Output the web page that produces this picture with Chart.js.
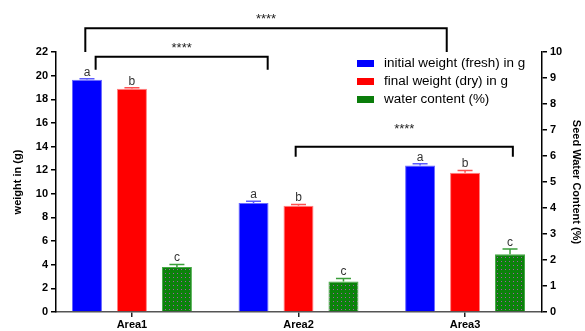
<!DOCTYPE html>
<html>
<head>
<meta charset="utf-8">
<script src="https://cdn.jsdelivr.net/npm/chart.js@4"></script>
<style>
  html, body { margin: 0; padding: 0; background: #fff; }
  canvas { display: block; }
</style>
</head>
<body>
<canvas id="chart" width="585" height="331"></canvas>
<script>
// Seed weights per sampling area (g) and seed water content (%)
const areas = ['Area1', 'Area2', 'Area3'];
const initialWeight = [19.65, 9.22, 12.4];
const initialErr = [0.08, 0.15, 0.15];
const finalWeight = [18.9, 8.98, 11.78];
const finalErr = [0.08, 0.12, 0.2];
const waterContent = [1.73, 1.17, 2.22];
const waterErr = [0.1, 0.12, 0.2];
const groupLetters = ['a', 'b', 'c'];
const weightTicks = [0, 2, 4, 6, 8, 10, 12, 14, 16, 18, 20, 22];
const waterTicks = [0, 1, 2, 3, 4, 5, 6, 7, 8, 9, 10];

// Significance brackets: x in area index units, y in weight (g) units
const bracketFrom = [-0.28, -0.218, 0.983];
const bracketTo = [1.89, 0.815, 2.287];
const bracketTop = [24.0, 21.6, 13.98];
const bracketFoot = [22.0, 20.5, 13.14];
const bracketLabelY = [24.97, 22.54, 15.68];
const bracketLabels = ['****', '****', '****'];

const FONT = "'Liberation Sans', Arial, sans-serif";

// dotted green fill for the water content bars
function dotPattern() {
  const c = document.createElement('canvas');
  c.width = 4; c.height = 4;
  const g = c.getContext('2d');
  g.fillStyle = '#0b820b';
  g.fillRect(0, 0, 4, 4);
  g.fillStyle = '#a45aa8';
  g.fillRect(1, 1, 1, 1);
  return g.createPattern(c, 'repeat');
}

const points = arr => arr.map((v, i) => ({ x: i, y: v }));

const errorBars = {
  id: 'errorBars',
  afterDatasetsDraw(chart) {
    const ctx = chart.ctx;
    chart.data.datasets.forEach((ds, di) => {
      const meta = chart.getDatasetMeta(di);
      const scale = chart.scales[ds.yAxisID];
      meta.data.forEach((bar, i) => {
        const v = ds.data[i].y;
        const top = scale.getPixelForValue(v + ds.errors[i]);
        ctx.save();
        ctx.strokeStyle = ds.errorColor;
        ctx.lineWidth = 1.5;
        ctx.beginPath();
        ctx.moveTo(bar.x, bar.y);
        ctx.lineTo(bar.x, top);
        ctx.moveTo(bar.x - 7.5, top);
        ctx.lineTo(bar.x + 7.5, top);
        ctx.stroke();
        ctx.fillStyle = '#333';
        ctx.font = '12px ' + FONT;
        ctx.textAlign = 'center';
        ctx.textBaseline = 'alphabetic';
        ctx.fillText(ds.letter, bar.x, top - 3);
        ctx.restore();
      });
    });
  }
};

const annotations = {
  id: 'annotations',
  afterDraw(chart) {
    const ctx = chart.ctx;
    const xs = chart.scales.x, ys = chart.scales.y;
    ctx.save();
    // brackets
    ctx.strokeStyle = '#000';
    ctx.lineWidth = 2;
    bracketFrom.forEach((f, i) => {
      const x1 = xs.getPixelForValue(f);
      const x2 = xs.getPixelForValue(bracketTo[i]);
      const yt = ys.getPixelForValue(bracketTop[i]);
      const yf = ys.getPixelForValue(bracketFoot[i]);
      ctx.beginPath();
      ctx.moveTo(x1, yf);
      ctx.lineTo(x1, yt);
      ctx.lineTo(x2, yt);
      ctx.lineTo(x2, yf);
      ctx.stroke();
      ctx.fillStyle = '#222';
      ctx.font = '13px ' + FONT;
      ctx.textAlign = 'center';
      ctx.textBaseline = 'middle';
      ctx.fillText(bracketLabels[i], (x1 + x2) / 2, ys.getPixelForValue(bracketLabelY[i]) + 3);
    });
    // legend
    chart.data.datasets.forEach((ds, i) => {
      const y = 63 + i * 18;
      ctx.fillStyle = ds.legendColor;
      ctx.fillRect(357, y - 3, 17, 7);
      ctx.save();
      ctx.translate(384, y + 1);
      ctx.scale(1.12, 1);
      ctx.fillStyle = '#000';
      ctx.font = '12px ' + FONT;
      ctx.textAlign = 'left';
      ctx.textBaseline = 'middle';
      ctx.fillText(ds.label, 0, 0);
      ctx.restore();
    });
    ctx.restore();
  }
};

new Chart(document.getElementById('chart'), {
  type: 'bar',
  data: {
    datasets: [
      {
        label: 'initial weight (fresh) in g',
        data: points(initialWeight),
        errors: initialErr,
        letter: groupLetters[0],
        yAxisID: 'y',
        backgroundColor: '#0000ff',
        borderColor: '#6a6aff',
        borderWidth: 1,
        errorColor: '#5a5aff',
        legendColor: '#0000ff'
      },
      {
        label: 'final weight (dry) in g',
        data: points(finalWeight),
        errors: finalErr,
        letter: groupLetters[1],
        yAxisID: 'y',
        backgroundColor: '#ff0000',
        borderColor: '#ff8080',
        borderWidth: 1,
        errorColor: '#ff5050',
        legendColor: '#ff0000'
      },
      {
        label: 'water content (%)',
        data: points(waterContent),
        errors: waterErr,
        letter: groupLetters[2],
        yAxisID: 'y2',
        backgroundColor: dotPattern(),
        borderColor: '#45a845',
        borderWidth: 1,
        errorColor: '#3a9e3a',
        legendColor: '#0b7d0b'
      }
    ]
  },
  options: {
    responsive: false,
    animation: false,
    categoryPercentage: 0.81,
    barPercentage: 0.667,
    layout: { padding: { top: 52, left: 0, right: 0, bottom: 0 } },
    plugins: { legend: { display: false }, tooltip: { enabled: false } },
    scales: {
      x: {
        type: 'linear',
        offset: false,
        min: -0.456,
        max: 2.462,
        afterBuildTicks: s => { s.ticks = areas.map((_, i) => ({ value: i })); },
        afterFit: s => { s.height = 19; },
        ticks: {
          callback: v => areas[v],
          autoSkip: false,
          maxRotation: 0,
          padding: 1,
          color: '#000',
          font: { family: FONT, size: 11, weight: 'bold' }
        },
        grid: { drawOnChartArea: false, offset: false, tickLength: 5, color: '#222', lineWidth: 1.5 },
        border: { color: '#555', width: 1.5 }
      },
      y: {
        position: 'left',
        min: 0,
        max: 22,
        afterBuildTicks: s => { s.ticks = weightTicks.map(v => ({ value: v })); },
        afterFit: s => { s.width = 56; },
        ticks: { padding: 3, color: '#000', font: { family: FONT, size: 11, weight: 'bold' } },
        grid: { drawOnChartArea: false, tickLength: 5, color: '#000', lineWidth: 1.5 },
        border: { color: '#000', width: 1.5 },
        title: {
          display: true,
          text: 'weight in (g)',
          color: '#000',
          padding: { top: 11, bottom: 0 },
          font: { family: FONT, size: 11, weight: 'bold' }
        }
      },
      y2: {
        position: 'right',
        min: 0,
        max: 10,
        afterBuildTicks: s => { s.ticks = waterTicks.map(v => ({ value: v })); },
        afterFit: s => { s.width = 43; },
        ticks: { padding: 3, color: '#000', font: { family: FONT, size: 11, weight: 'bold' } },
        grid: { drawOnChartArea: false, tickLength: 5, color: '#000', lineWidth: 1.5 },
        border: { color: '#000', width: 1.5 },
        title: {
          display: true,
          text: 'Seed Water Content (%)',
          color: '#000',
          padding: { top: 2, bottom: 0 },
          font: { family: FONT, size: 11, weight: 'bold' }
        }
      }
    }
  },
  plugins: [errorBars, annotations]
});
</script>
</body>
</html>
